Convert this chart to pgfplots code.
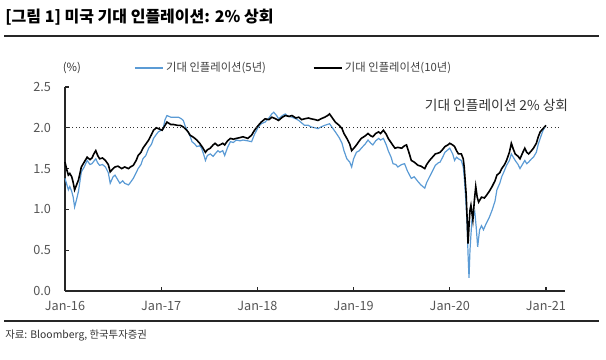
\documentclass[border=0pt]{standalone}
\usepackage{fontspec}
\setmainfont{Noto Sans CJK KR}
\usepackage{pgfplots}
\pgfplotsset{compat=1.18}
\definecolor{fiveY}{RGB}{91,155,213}
\definecolor{lblgray}{RGB}{85,85,85}
\begin{document}
\begin{tikzpicture}
\useasboundingbox (0pt,0pt) rectangle (454.5pt,270pt);
% title
\node[anchor=west,inner sep=0pt,font=\bfseries\fontsize{12}{14}\selectfont] at (3.75pt,257.25pt) {[그림 1] 미국 기대 인플레이션: 2\% 상회};
\draw[line width=1.6pt,black!85] (3pt,243pt) -- (449.25pt,243pt);
\begin{axis}[
  at={(48.75pt,51.75pt)}, anchor=south west,
  scale only axis, width=375pt, height=153pt,
  xmin=2016, xmax=2021.198, ymin=0, ymax=2.5,
  axis x line*=bottom, axis y line*=left,
  axis line style={-, line width=0.9pt, black!85},
  tick align=inside, major tick length=3pt,
  tick style={line width=0.8pt, black!85},
  xtick={2016,2017,2018,2019,2020,2021},
  xticklabels={Jan-16,Jan-17,Jan-18,Jan-19,Jan-20,Jan-21},
  ytick={0,0.5,1,1.5,2,2.5},
  /pgf/number format/assume math mode=true,
  yticklabel style={/pgf/number format/fixed, /pgf/number format/fixed zerofill, /pgf/number format/precision=1, xshift=-7pt},
  ticklabel style={font=\fontsize{9.5}{11}\selectfont, text=lblgray},
  xticklabel style={yshift=-4pt},
  clip=false,
  legend style={at={(axis description cs:0.138,1.093)}, anchor=west, draw=none, fill=none, inner sep=0pt,
    font=\fontsize{8.5}{10}\selectfont, text=black!75, legend columns=2,
    /tikz/every even column/.append style={column sep=33pt}},
  legend image code/.code={\draw[#1] (0pt,0pt) -- (21pt,0pt);},
  legend cell align=left,
]
\addplot[fiveY, line width=0.9pt] coordinates {
(2016.00,1.38)(2016.02,1.30)(2016.035,1.24)(2016.05,1.28)(2016.07,1.22)(2016.085,1.15)(2016.10,1.03)(2016.12,1.12)(2016.14,1.22)(2016.17,1.46)(2016.20,1.52)(2016.23,1.60)(2016.26,1.55)(2016.28,1.56)(2016.32,1.62)(2016.34,1.57)(2016.36,1.54)(2016.39,1.55)(2016.42,1.52)(2016.45,1.45)(2016.47,1.32)(2016.50,1.40)(2016.52,1.42)(2016.55,1.36)(2016.57,1.32)(2016.60,1.35)(2016.62,1.32)(2016.66,1.30)(2016.68,1.33)(2016.71,1.38)(2016.74,1.45)(2016.76,1.50)(2016.79,1.55)(2016.81,1.62)(2016.84,1.66)(2016.87,1.75)(2016.90,1.80)(2016.92,1.87)(2016.95,1.92)(2016.97,1.95)(2017.00,1.97)(2017.02,1.99)(2017.04,2.10)(2017.06,2.15)(2017.10,2.13)(2017.13,2.13)(2017.18,2.13)(2017.21,2.11)(2017.23,2.09)(2017.25,2.02)(2017.27,1.97)(2017.30,1.90)(2017.32,1.83)(2017.35,1.80)(2017.37,1.77)(2017.40,1.78)(2017.42,1.75)(2017.44,1.68)(2017.46,1.60)(2017.48,1.66)(2017.51,1.68)(2017.54,1.65)(2017.56,1.68)(2017.59,1.72)(2017.61,1.70)(2017.64,1.72)(2017.66,1.66)(2017.69,1.76)(2017.72,1.83)(2017.75,1.82)(2017.78,1.85)(2017.82,1.84)(2017.85,1.85)(2017.90,1.84)(2017.94,1.83)(2017.97,1.92)(2018.01,2.01)(2018.04,2.05)(2018.08,2.07)(2018.12,2.12)(2018.15,2.17)(2018.17,2.19)(2018.20,2.15)(2018.22,2.11)(2018.26,2.15)(2018.29,2.17)(2018.32,2.14)(2018.36,2.13)(2018.40,2.11)(2018.43,2.09)(2018.46,2.06)(2018.49,2.03)(2018.53,2.03)(2018.56,2.01)(2018.60,2.00)(2018.63,1.99)(2018.66,2.01)(2018.70,2.03)(2018.75,2.05)(2018.78,2.00)(2018.81,1.95)(2018.85,1.88)(2018.88,1.81)(2018.90,1.72)(2018.93,1.62)(2018.96,1.58)(2018.98,1.52)(2019.00,1.62)(2019.03,1.70)(2019.06,1.72)(2019.08,1.75)(2019.12,1.80)(2019.15,1.85)(2019.18,1.81)(2019.20,1.79)(2019.23,1.84)(2019.26,1.87)(2019.28,1.85)(2019.31,1.87)(2019.34,1.79)(2019.36,1.72)(2019.39,1.64)(2019.41,1.56)(2019.44,1.55)(2019.46,1.52)(2019.50,1.55)(2019.53,1.56)(2019.56,1.47)(2019.60,1.38)(2019.63,1.40)(2019.67,1.34)(2019.70,1.30)(2019.74,1.26)(2019.76,1.33)(2019.79,1.40)(2019.82,1.47)(2019.85,1.54)(2019.88,1.57)(2019.90,1.58)(2019.93,1.65)(2019.95,1.70)(2019.98,1.73)(2020.00,1.75)(2020.03,1.68)(2020.05,1.60)(2020.07,1.64)(2020.09,1.62)(2020.12,1.60)(2020.14,1.52)(2020.15,1.40)(2020.165,1.15)(2020.18,0.83)(2020.19,0.45)(2020.20,0.16)(2020.21,0.50)(2020.23,0.87)(2020.26,0.97)(2020.275,0.78)(2020.29,0.54)(2020.31,0.75)(2020.33,0.80)(2020.35,0.75)(2020.38,0.83)(2020.41,0.90)(2020.44,0.99)(2020.47,1.10)(2020.49,1.24)(2020.52,1.32)(2020.54,1.40)(2020.57,1.48)(2020.59,1.54)(2020.62,1.60)(2020.64,1.68)(2020.66,1.64)(2020.68,1.60)(2020.71,1.55)(2020.73,1.50)(2020.76,1.56)(2020.78,1.60)(2020.80,1.56)(2020.82,1.58)(2020.85,1.62)(2020.87,1.64)(2020.90,1.70)(2020.92,1.80)(2020.94,1.87)(2020.97,1.97)(2021.00,2.03)
};
\addlegendentry{기대 인플레이션(5년)}
\addplot[black, line width=1.2pt] coordinates {
(2016.00,1.58)(2016.02,1.48)(2016.035,1.42)(2016.05,1.44)(2016.07,1.40)(2016.085,1.33)(2016.10,1.24)(2016.12,1.30)(2016.14,1.36)(2016.17,1.52)(2016.20,1.58)(2016.23,1.64)(2016.26,1.61)(2016.28,1.63)(2016.30,1.68)(2016.32,1.72)(2016.34,1.66)(2016.36,1.62)(2016.39,1.63)(2016.42,1.60)(2016.45,1.55)(2016.47,1.46)(2016.50,1.50)(2016.52,1.52)(2016.55,1.53)(2016.59,1.50)(2016.62,1.52)(2016.66,1.50)(2016.68,1.52)(2016.71,1.54)(2016.74,1.60)(2016.76,1.66)(2016.79,1.70)(2016.81,1.75)(2016.84,1.80)(2016.87,1.85)(2016.90,1.92)(2016.92,1.97)(2016.95,2.00)(2016.97,1.99)(2017.01,1.97)(2017.04,2.03)(2017.06,2.07)(2017.10,2.04)(2017.13,2.04)(2017.17,2.03)(2017.20,2.03)(2017.23,2.01)(2017.25,1.99)(2017.28,1.95)(2017.30,1.91)(2017.34,1.88)(2017.37,1.85)(2017.40,1.81)(2017.43,1.76)(2017.46,1.70)(2017.48,1.73)(2017.51,1.75)(2017.54,1.79)(2017.56,1.81)(2017.59,1.78)(2017.61,1.79)(2017.64,1.81)(2017.66,1.79)(2017.69,1.84)(2017.72,1.87)(2017.75,1.86)(2017.78,1.87)(2017.82,1.88)(2017.85,1.89)(2017.90,1.87)(2017.94,1.91)(2017.97,1.97)(2018.01,2.03)(2018.04,2.07)(2018.08,2.11)(2018.12,2.10)(2018.15,2.13)(2018.19,2.11)(2018.22,2.09)(2018.26,2.13)(2018.29,2.15)(2018.33,2.14)(2018.36,2.15)(2018.40,2.12)(2018.43,2.13)(2018.46,2.10)(2018.49,2.11)(2018.53,2.12)(2018.56,2.11)(2018.60,2.10)(2018.63,2.09)(2018.66,2.11)(2018.70,2.13)(2018.73,2.15)(2018.75,2.17)(2018.78,2.12)(2018.81,2.07)(2018.85,2.03)(2018.88,1.99)(2018.90,1.93)(2018.93,1.87)(2018.96,1.80)(2018.98,1.72)(2019.01,1.76)(2019.03,1.79)(2019.06,1.84)(2019.08,1.87)(2019.12,1.90)(2019.15,1.93)(2019.18,1.90)(2019.20,1.89)(2019.23,1.93)(2019.26,1.95)(2019.28,1.93)(2019.31,1.97)(2019.34,1.92)(2019.36,1.87)(2019.40,1.80)(2019.43,1.75)(2019.46,1.76)(2019.50,1.75)(2019.53,1.78)(2019.55,1.79)(2019.58,1.68)(2019.60,1.60)(2019.63,1.58)(2019.67,1.54)(2019.70,1.53)(2019.74,1.50)(2019.76,1.55)(2019.79,1.60)(2019.82,1.64)(2019.85,1.68)(2019.88,1.69)(2019.90,1.70)(2019.93,1.74)(2019.95,1.77)(2019.98,1.79)(2020.00,1.81)(2020.03,1.79)(2020.05,1.77)(2020.07,1.72)(2020.09,1.68)(2020.12,1.68)(2020.14,1.62)(2020.15,1.52)(2020.17,1.19)(2020.18,0.90)(2020.19,0.58)(2020.20,0.80)(2020.21,0.99)(2020.22,1.05)(2020.24,0.87)(2020.255,1.10)(2020.27,1.28)(2020.285,1.15)(2020.30,1.09)(2020.33,1.15)(2020.36,1.14)(2020.38,1.17)(2020.41,1.22)(2020.44,1.28)(2020.47,1.35)(2020.49,1.42)(2020.52,1.45)(2020.54,1.50)(2020.57,1.55)(2020.59,1.60)(2020.62,1.70)(2020.64,1.81)(2020.66,1.74)(2020.68,1.68)(2020.71,1.65)(2020.73,1.62)(2020.76,1.70)(2020.78,1.75)(2020.80,1.70)(2020.82,1.68)(2020.85,1.72)(2020.87,1.75)(2020.90,1.81)(2020.92,1.89)(2020.94,1.95)(2020.97,1.99)(2021.00,2.03)
};
\addlegendentry{기대 인플레이션(10년)}
\addplot[black!80, dotted, line width=0.7pt, forget plot] coordinates {(2016,2)(2021.15,2)};
\node[anchor=south west, inner sep=0pt, font=\fontsize{8.5}{10}\selectfont, text=black!80] at (axis description cs:-0.005,1.065) {(\%)};
\node[inner sep=0pt, font=\fontsize{10.3}{12}\selectfont, text=black!80] at (axis description cs:0.863,0.912) {기대 인플레이션 2\% 상회};
\end{axis}
\draw[line width=1.6pt,black!85] (3pt,29.25pt) -- (449.25pt,29.25pt);
\node[anchor=west,inner sep=0pt,font=\fontsize{7.8}{9}\selectfont,text=black!80] at (3.75pt,18.75pt) {자료: Bloomberg, 한국투자증권};
\end{tikzpicture}
\end{document}
